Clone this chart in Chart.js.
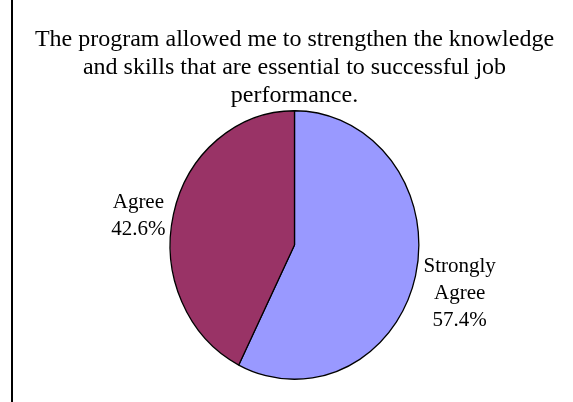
<!DOCTYPE html>
<html>
<head>
<meta charset="utf-8">
<script src="https://cdn.jsdelivr.net/npm/chart.js@4.4.0/dist/chart.umd.min.js"></script>
<style>
  html, body { margin: 0; padding: 0; background: #fff; }
  #frame {
    position: absolute; left: 11px; top: 0;
    width: 562px; height: 402px;
    border-left: 2px solid #000;
  }
  #frame canvas { display: block; }
</style>
</head>
<body>
<div id="frame"><canvas id="pieChart" width="560" height="402"></canvas></div>
<script>
const titleLines = [
    'The program allowed me to strengthen the knowledge',
    'and skills that are essential to successful job',
    'performance.'
];
const categories = ['Strongly Agree', 'Agree'];
const labelLines = [['Strongly', 'Agree'], ['Agree']];
const percents = [57.4, 42.6];
const sliceColors = ['#9999FF', '#993366'];

const FONT = "'Liberation Serif', 'Times New Roman', serif";
const X_SCALE = 0.926; // the original pie is slightly squashed horizontally

// squash the pie into an ellipse, then put the labels outside it
const ellipsePie = {
    id: 'ellipsePie',
    beforeDatasetsDraw(chart) {
        const arc = chart.getDatasetMeta(0).data[0];
        const ctx = chart.ctx;
        ctx.save();
        ctx.translate(arc.x, 0);
        ctx.scale(X_SCALE, 1);
        ctx.translate(-arc.x, 0);
    },
    afterDatasetsDraw(chart) {
        const ctx = chart.ctx;
        ctx.restore();
        const meta = chart.getDatasetMeta(0);
        ctx.save();
        ctx.font = '21px ' + FONT;
        ctx.fillStyle = '#000';
        ctx.textAlign = 'center';
        ctx.textBaseline = 'middle';
        const lh = 27;
        meta.data.forEach((arc, i) => {
            const mid = (arc.startAngle + arc.endAngle) / 2;
            const dx = Math.cos(mid), dy = Math.sin(mid);
            const lines = labelLines[i].concat([percents[i].toFixed(1) + '%']);
            let w = 0;
            lines.forEach(l => { w = Math.max(w, ctx.measureText(l).width); });
            const h = lines.length * lh;
            const ax = arc.x + arc.outerRadius * X_SCALE * dx;
            const ay = arc.y + arc.outerRadius * dy;
            const cx = ax + Math.sign(dx) * (8 + w / 2);
            const cy = ay + dy * h / 2 + 8;
            lines.forEach((l, k) => {
                ctx.fillText(l, cx, cy - h / 2 + lh / 2 + k * lh);
            });
        });
        ctx.restore();
    }
};

new Chart(document.getElementById('pieChart'), {
    type: 'pie',
    data: {
        labels: categories,
        datasets: [{
            data: percents,
            backgroundColor: sliceColors,
            borderColor: '#000',
            borderWidth: 1.4
        }]
    },
    options: {
        responsive: false,
        animation: false,
        layout: { padding: { top: 0, bottom: 22, left: 3, right: 0 } },
        plugins: {
            legend: { display: false },
            tooltip: { enabled: false },
            title: {
                display: true,
                text: titleLines,
                color: '#000',
                font: { family: FONT, size: 24, weight: 'normal', lineHeight: 1.1667 },
                padding: { top: 26, bottom: 0 }
            }
        }
    },
    plugins: [ellipsePie]
});
</script>
</body>
</html>
